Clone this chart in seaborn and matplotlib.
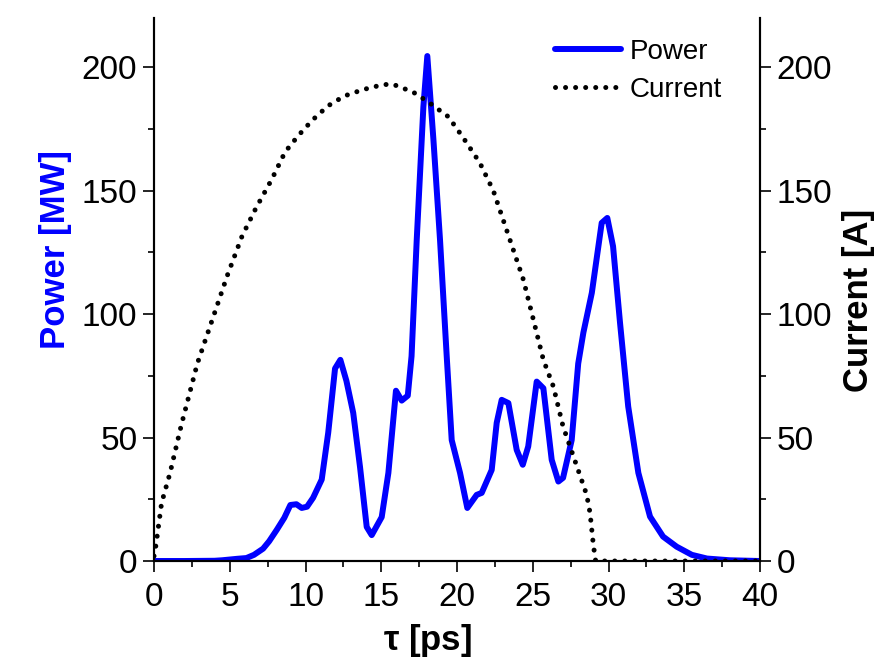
import seaborn as sns
import matplotlib.pyplot as plt
import pandas as pd
from matplotlib.ticker import MultipleLocator

# power pulse
tau_power = [0, 2, 4, 4.5, 5, 5.5, 6.1, 6.6, 7.2, 7.6, 8.1, 8.6, 9.0, 9.4, 9.75, 10.1,
             10.5, 11.07, 11.5, 11.95, 12.3, 12.7, 13.15, 13.6, 14.04, 14.37, 15.03, 15.47,
             15.97, 16.35, 16.75, 17.0, 17.34, 17.78, 18.04, 18.44, 18.88, 19.32, 19.65,
             20.2, 20.68, 21.3, 21.63, 22.29, 22.62, 22.95, 23.39, 23.94, 24.34, 24.7,
             25.26, 25.7, 26.25, 26.69, 27.0, 27.57, 28.0, 28.34, 28.9, 29.55, 29.92, 30.3,
             30.76, 31.3, 31.97, 32.74, 33.6, 34.5, 35.5, 36.5, 38, 40]
power = [0, 0, 0.1, 0.3, 0.6, 0.9, 1.2, 2.5, 5, 8, 12.6, 17.5, 22.7, 23, 21.5, 22,
         25.6, 33, 52, 78, 81.5, 73, 60, 38, 13.8, 10.5, 17.8, 35.7,
         69, 65, 67, 83, 130, 184, 204.6, 171, 130, 83, 49,
         35.7, 21.5, 26.8, 27.6, 36.9, 56, 65.3, 64, 45, 39, 46.4,
         72.7, 70, 41, 32.2, 33.7, 49, 80, 92.5, 108.7, 137, 139, 127.5,
         96.5, 62.6, 35.7, 18, 9.9, 5.8, 2.5, 1.0, 0.3, 0]

# beam current
tau_current = [0, 0.13, 0.5, 1.06, 1.8, 2.86, 3.96, 4.84, 5.81, 6.73, 7.77, 8.65, 9.53,
               10.45, 11.46, 12.56, 13.8, 15.1, 15.75, 17.1, 18.1, 19.43, 20.4, 21.5,
               22.4, 23.06, 23.72, 24.38, 25.04, 25.7, 26.36, 27.0, 27.46, 28.1, 28.56,
               28.78, 29.0, 29.15, 30, 35, 40]
current = [2, 6.5, 23.5, 35.7, 55, 80, 99.8, 115.7, 131.6, 143, 154.6, 165.7, 172.4,
           178.6, 184.3, 188.4, 191, 193, 193.2, 190, 186, 180, 171.6, 161.4,
           150, 138, 126, 114, 97.8, 81.5, 70.7, 54.5, 46.4, 35, 26.8,
           19.5, 6.5, 0, 0, 0, 0]

df_p = pd.DataFrame({"tau": tau_power, "Power": power})
df_c = pd.DataFrame({"tau": tau_current, "Current": current})

sns.set_style("ticks")
plt.rcParams['font.family'] = ['Liberation Sans', 'DejaVu Sans']
plt.rcParams['axes.linewidth'] = 1.5
plt.rcParams['text.color'] = 'black'
plt.rcParams['axes.labelcolor'] = 'black'
plt.rcParams['axes.edgecolor'] = 'black'
for a in ['xtick', 'ytick']:
    plt.rcParams[a + '.direction'] = 'out'
    plt.rcParams[a + '.major.size'] = 8
    plt.rcParams[a + '.minor.size'] = 4
    plt.rcParams[a + '.major.width'] = 1.2
    plt.rcParams[a + '.minor.width'] = 1.2
    plt.rcParams[a + '.labelsize'] = 24
    plt.rcParams[a + '.color'] = 'black'
    plt.rcParams[a + '.labelcolor'] = 'black'

fig, ax = plt.subplots(figsize=(8.76, 6.58), dpi=100)
fig.subplots_adjust(left=0.1758, right=0.8676, top=0.9726, bottom=0.1474)

sns.lineplot(data=df_p, x="tau", y="Power", ax=ax, color="#0000ff", linewidth=4.3,
             solid_joinstyle="round", solid_capstyle="round", label="Power", legend=False)
ax2 = ax.twinx()
sns.lineplot(data=df_c, x="tau", y="Current", ax=ax2, color="black", linewidth=3.6,
             linestyle=(0, (0.01, 2.0)), dash_capstyle="round", label="Current", legend=False)

for a in (ax, ax2):
    a.set_xlim(0, 40)
    a.set_ylim(0, 220)
    a.yaxis.set_major_locator(MultipleLocator(50))
    a.yaxis.set_minor_locator(MultipleLocator(25))
    a.spines['top'].set_visible(False)
ax.xaxis.set_major_locator(MultipleLocator(5))
ax.xaxis.set_minor_locator(MultipleLocator(2.5))
ax.tick_params(axis='x', pad=7)
ax.tick_params(axis='y', pad=4)
ax2.tick_params(axis='y', pad=4)

ax.set_xlabel(r"$\mathregular{\tau}$ [ps]", fontsize=25, fontweight="bold")
ax.set_ylabel("Power [MW]", fontsize=25, fontweight="bold", color="#0000ff")
ax2.set_ylabel("Current [A]", fontsize=25, fontweight="bold", color="black")
ax.xaxis.set_label_coords(0.452, -0.113)
ax.yaxis.set_label_coords(-0.135, 0.573)
ax2.yaxis.set_label_coords(1.135, 0.48)

h1, l1 = ax.get_legend_handles_labels()
h2, l2 = ax2.get_legend_handles_labels()
ax2.legend(h1 + h2, l1 + l2, loc="upper right", bbox_to_anchor=(0.937, 0.962),
           frameon=False, fontsize=20, handlelength=2.4, handletextpad=0.3,
           labelspacing=0.45, borderpad=0, borderaxespad=0)

plt.savefig("out.png", dpi=100)
